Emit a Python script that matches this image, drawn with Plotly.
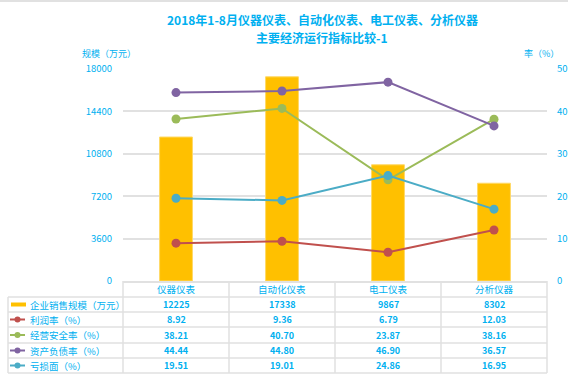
import plotly.graph_objects as go

categories = ["仪器仪表", "自动化仪表", "电工仪表", "分析仪器"]
sales = [12225, 17338, 9867, 8302]
profit_rate = [8.92, 9.36, 6.79, 12.03]
safety_rate = [38.21, 40.70, 23.87, 38.16]
debt_rate = [44.44, 44.80, 46.90, 36.57]
loss_rate = [19.51, 19.01, 24.86, 16.95]

series_names = ["企业销售规模（万元）", "利润率（%）", "经营安全率（%）", "资产负债率（%）", "亏损面（%）"]
left_ticks = [0, 3600, 7200, 10800, 14400, 18000]
right_ticks = [0, 10, 20, 30, 40, 50]

W, H = 568, 374
FONT = "Noto Sans CJK SC"
CYAN = "#00B0F0"
GRID = "#E1E1E1"
BAR = "#FFC000"
colors = ["#C0504D", "#9BBB59", "#8064A2", "#4BACC6"]

def px(x):
    return x / W

def py(y):
    return 1 - y / H

fig = go.Figure()
fig.add_trace(go.Bar(x=categories, y=sales, name=series_names[0], marker_color=BAR,
                     marker_line=dict(color="#FFD966", width=1), width=0.31, yaxis="y"))
for vals, name, col in zip([profit_rate, safety_rate, debt_rate, loss_rate], series_names[1:], colors):
    fig.add_trace(go.Scatter(x=categories, y=vals, name=name, mode="lines+markers",
                             line=dict(color=col, width=2), marker=dict(color=col, size=9),
                             yaxis="y2"))

plot_left, plot_right, plot_top, plot_bottom = 123, 547, 69, 281

fig.update_layout(
    template="none",
    width=W, height=H, margin=dict(l=0, r=0, t=0, b=0, autoexpand=False),
    paper_bgcolor="white", plot_bgcolor="white", showlegend=False,
    font=dict(family=FONT, color=CYAN, size=9),
    xaxis=dict(domain=[px(plot_left), px(plot_right)], type="category", range=[-0.5, 3.5],
               showticklabels=False, showline=True, linecolor=GRID, linewidth=1.5,
               showgrid=False, zeroline=False, ticks="", automargin=False),
    yaxis=dict(domain=[py(plot_bottom), py(plot_top)], range=[0, 18000], tickvals=left_ticks,
               ticktext=[str(v) for v in left_ticks], showgrid=True, gridcolor=GRID, gridwidth=2,
               zeroline=False, showline=False, ticks="", ticklabelstandoff=10, automargin=False,
               tickfont=dict(family=FONT, color=CYAN, size=9.5)),
    yaxis2=dict(overlaying="y", side="right", range=[0, 50], tickvals=right_ticks,
                showgrid=False, zeroline=False, showline=False, ticks="", ticklabelstandoff=9,
                automargin=False, tickfont=dict(family=FONT, color=CYAN, size=9.5)),
)

def text(t, x, y, size, xref="paper", xanchor="center"):
    return dict(text=t, x=x, y=y, xref=xref, yref="paper", xanchor=xanchor, yanchor="middle",
                showarrow=False, font=dict(size=size, color=CYAN, family=FONT))

ann = []
ann.append(text("<b>2018年1-8月仪器仪表、自动化仪表、电工仪表、分析仪器</b>", px(322), py(20), 12))
ann.append(text("<b>主要经济运行指标比较-1</b>", px(322), py(38), 12))
ann.append(text("规模（万元）", px(109), py(53), 9))
ann.append(text("率（%）", px(541), py(53), 9))

# table
row_edges = [297, 312, 327, 343, 358, 373]
header_c = (281 + 297) / 2
for c in categories:
    ann.append(text(c, c, py(header_c), 9.5, xref="x"))

all_vals = [sales, profit_rate, safety_rate, debt_rate, loss_rate]
shapes = []
for i, (name, vals) in enumerate(zip(series_names, all_vals)):
    yc = (row_edges[i] + row_edges[i + 1]) / 2
    ann.append(text(name, px(28), py(yc), 9.5, xanchor="left"))
    for c, v in zip(categories, vals):
        t = str(v) if i == 0 else f"{v:.2f}"
        ann.append(text("<b>" + t + "</b>", c, py(yc), 9, xref="x"))
    if i == 0:
        shapes.append(dict(type="rect", xref="paper", yref="paper", x0=px(11), x1=px(26),
                           y0=py(yc + 2), y1=py(yc - 2), fillcolor=BAR, line=dict(width=0)))
    else:
        col = colors[i - 1]
        shapes.append(dict(type="line", xref="paper", yref="paper", x0=px(10), x1=px(25),
                           y0=py(yc), y1=py(yc), line=dict(color=col, width=2)))
        shapes.append(dict(type="circle", xref="paper", yref="paper", x0=px(14.5), x1=px(20.5),
                           y0=py(yc + 3), y1=py(yc - 3), fillcolor=col, line=dict(width=0)))

for r in row_edges:
    shapes.append(dict(type="line", xref="paper", yref="paper", x0=px(8), x1=px(547),
                       y0=py(r), y1=py(r), line=dict(color=GRID, width=1.5), layer="below"))
shapes.append(dict(type="line", xref="paper", yref="paper", x0=px(8), x1=px(8),
                   y0=py(297), y1=py(373), line=dict(color=GRID, width=1.5), layer="below"))
for xv in [123, 229, 335, 441, 547]:
    shapes.append(dict(type="line", xref="paper", yref="paper", x0=px(xv), x1=px(xv),
                       y0=py(281), y1=py(373), line=dict(color=GRID, width=1.5), layer="below"))
shapes.append(dict(type="line", xref="paper", yref="paper", x0=0, x1=1, y0=py(1), y1=py(1),
                   line=dict(color=GRID, width=2)))

fig.update_layout(annotations=ann, shapes=shapes)
fig.write_html("out.html", config={"displayModeBar": False},
               post_script="document.body.style.margin='0';")
